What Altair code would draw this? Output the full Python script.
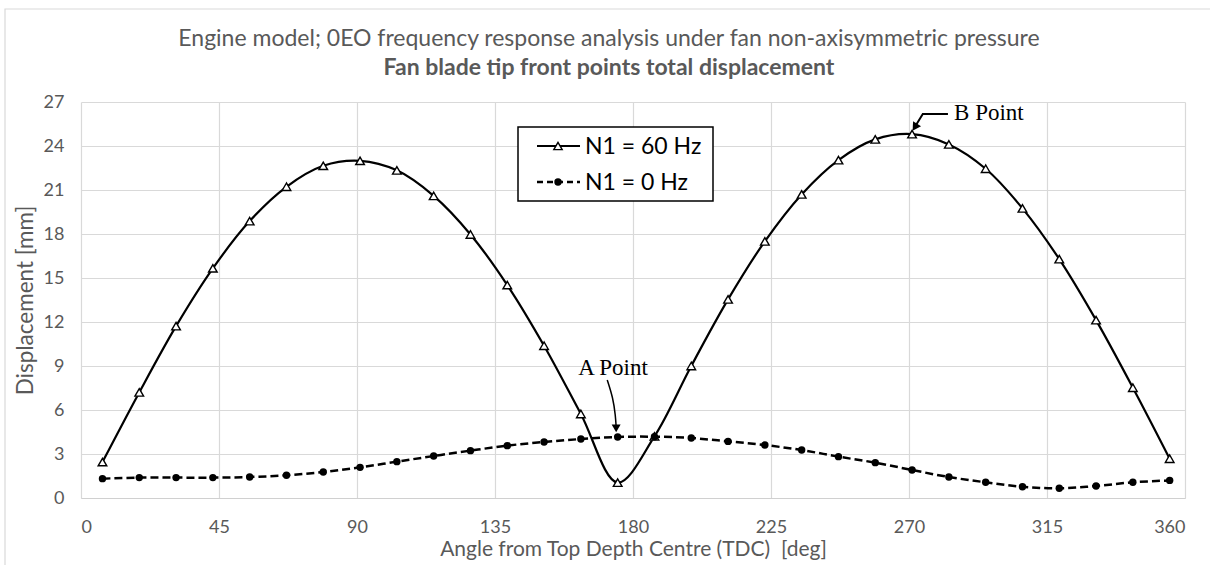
import altair as alt
import pandas as pd

angles = [7, 19, 31, 43, 55, 67, 79, 91, 103, 115, 127, 139, 151, 163, 175,
          187, 199, 211, 223, 235, 247, 259, 271, 283, 295, 307, 319, 331, 343, 355]
disp_60hz = [2.45, 7.2, 11.72, 15.66, 18.88, 21.22, 22.65, 22.99, 22.34, 20.6,
             17.97, 14.52, 10.38, 5.73, 1.05, 4.2, 9.0, 13.54, 17.5, 20.7,
             23.04, 24.45, 24.81, 24.11, 22.45, 19.75, 16.29, 12.13, 7.52, 2.68]
disp_0hz = [1.32, 1.39, 1.39, 1.39, 1.43, 1.55, 1.77, 2.09, 2.48, 2.86,
            3.23, 3.57, 3.82, 4.02, 4.16, 4.18, 4.09, 3.86, 3.61, 3.27,
            2.82, 2.41, 1.91, 1.43, 1.07, 0.77, 0.66, 0.82, 1.07, 1.2]

x_ticks = [0, 45, 90, 135, 180, 225, 270, 315, 360]
y_ticks = [0, 3, 6, 9, 12, 15, 18, 21, 24, 27]

series_names = ["N1 = 60 Hz", "N1 = 0 Hz"]
title_line1 = "Engine model; 0EO frequency response analysis under fan non-axisymmetric pressure"
title_line2 = "Fan blade tip front points total displacement"
x_title = "Angle from Top Depth Centre (TDC)\u00a0 [deg]"
y_title = "Displacement [mm]"

# annotation anchors (data units)
a_label = {"angle": [173.5], "disp": [8.86], "t": ["A Point"]}
a_arrow = {"angle": [171.6, 173.5, 174.3, 174.5], "disp": [8.05, 6.82, 5.59, 4.85]}
a_head = {"angle": [174.5], "disp": [4.75]}
b_label = {"angle": [284.7], "disp": [26.27], "t": ["B Point"]}
b_arrow = {"angle": [282.7, 274.5, 271.9], "disp": [26.18, 26.18, 25.3]}
b_head = {"angle": [271.9], "disp": [25.28]}

df60 = pd.DataFrame({"angle": angles, "disp": disp_60hz})
df0 = pd.DataFrame({"angle": angles, "disp": disp_0hz})

GRAY = "#595959"
FONT = "Lato"

X = alt.X("angle:Q", scale=alt.Scale(domain=[0, 360], nice=False),
          axis=alt.Axis(values=x_ticks, title=x_title, grid=True, ticks=False,
                        labelPadding=20, titleY=51, titleBaseline="middle"))
Y = alt.Y("disp:Q", scale=alt.Scale(domain=[0, 27], nice=False),
          axis=alt.Axis(values=y_ticks, title=y_title, grid=True, ticks=False,
                        domain=False, labelPadding=17, titleX=-56, titleFontSize=22.5,
                        titleBaseline="middle"))

line60 = alt.Chart(df60).mark_line(color="black", strokeWidth=2.2,
                                   interpolate="catmull-rom").encode(x=X, y=Y)
pts60 = alt.Chart(df60).mark_point(shape="triangle-up", filled=True, fill="white",
                                   stroke="black", strokeWidth=1.4, size=75,
                                   opacity=1).encode(x=X, y=Y)
line0 = alt.Chart(df0).mark_line(color="black", strokeWidth=2.5, strokeDash=[8, 4],
                                 interpolate="catmull-rom").encode(x=X, y=Y)
pts0 = alt.Chart(df0).mark_circle(color="black", size=55, opacity=1).encode(x=X, y=Y)

# annotations
ann_font = "Liberation Serif"
a_txt = alt.Chart(pd.DataFrame(a_label)).mark_text(
    font=ann_font, fontSize=23, color="black", align="center", baseline="middle"
).encode(x=X, y=Y, text="t:N")
a_line = alt.Chart(pd.DataFrame(a_arrow)).mark_line(
    color="black", strokeWidth=1.5, interpolate="basis").encode(x=X, y=Y)
a_hd = alt.Chart(pd.DataFrame(a_head)).mark_point(
    shape="triangle-down", filled=True, color="black", size=80, opacity=1).encode(x=X, y=Y)
b_txt = alt.Chart(pd.DataFrame(b_label)).mark_text(
    font=ann_font, fontSize=23, color="black", align="left", baseline="middle"
).encode(x=X, y=Y, text="t:N")
b_line = alt.Chart(pd.DataFrame(b_arrow)).mark_line(
    color="black", strokeWidth=2).encode(x=X, y=Y)
b_hd = alt.Chart(pd.DataFrame(b_head)).mark_point(
    shape="triangle-down", angle=33, filled=True, color="black", size=90,
    opacity=1).encode(x=X, y=Y)

# legend (pixel placement inside plot area)
one = pd.DataFrame({"k": [0]})
leg_box = alt.Chart(one).mark_rect(fill="white", stroke="black", strokeWidth=1.5).encode(
    x=alt.value(437), x2=alt.value(632), y=alt.value(25), y2=alt.value(99))
leg_l1 = alt.Chart(one).mark_rule(color="black", strokeWidth=2).encode(
    x=alt.value(456), x2=alt.value(499), y=alt.value(44))
leg_p1 = alt.Chart(one).mark_point(shape="triangle-up", filled=True, fill="white",
                                   stroke="black", strokeWidth=1.4, size=70,
                                   opacity=1).encode(x=alt.value(477), y=alt.value(44))
leg_l2 = alt.Chart(one).mark_rule(color="black", strokeWidth=2.5, strokeDash=[6, 4]).encode(
    x=alt.value(456), x2=alt.value(499), y=alt.value(80))
leg_p2 = alt.Chart(one).mark_circle(color="black", size=55, opacity=1).encode(
    x=alt.value(477), y=alt.value(80))
leg_t1 = alt.Chart(one).mark_text(font=FONT, fontSize=23, color="black", align="left",
                                  baseline="middle", text=series_names[0]).encode(
    x=alt.value(504), y=alt.value(45))
leg_t2 = alt.Chart(one).mark_text(font=FONT, fontSize=23, color="black", align="left",
                                  baseline="middle", text=series_names[1]).encode(
    x=alt.value(504), y=alt.value(81))

# chart titles as text marks (placed above plot area)
ttl1 = alt.Chart(one).mark_text(font=FONT, fontSize=23, color=GRAY, align="center",
                                baseline="alphabetic", text=title_line1).encode(
    x=alt.value(528), y=alt.value(-56))
ttl2 = alt.Chart(one).mark_text(font=FONT, fontSize=23, fontWeight="bold", color=GRAY,
                                align="center", baseline="alphabetic",
                                text=title_line2).encode(
    x=alt.value(528), y=alt.value(-27))

# outer chart border
border = alt.Chart(one).mark_rect(fill=None, stroke="#d9d9d9", strokeWidth=1.2).encode(
    x=alt.value(-76), x2=alt.value(1200), y=alt.value(-93), y2=alt.value(600))

chart = alt.layer(
    border, ttl1, ttl2, line60, pts60, line0, pts0, a_line, a_hd, a_txt, b_line, b_hd,
    b_txt, leg_box, leg_l1, leg_p1, leg_l2, leg_p2, leg_t1, leg_t2
).properties(
    width=1104, height=396,
    autosize=alt.AutoSizeParams(type="none"),
    padding={"left": 81, "top": 102, "right": 25, "bottom": 67},
    background="white",
).configure_view(stroke=None).configure_axis(
    gridColor="#d9d9d9", gridWidth=1.2, domainColor="#d0d0d0", domainWidth=1.2,
    labelFont=FONT, labelFontSize=18, labelColor=GRAY,
    titleFont=FONT, titleFontSize=21, titleColor=GRAY, titleFontWeight="normal",
)

chart.save("out.html", embed_options={"renderer": "svg", "actions": False})
